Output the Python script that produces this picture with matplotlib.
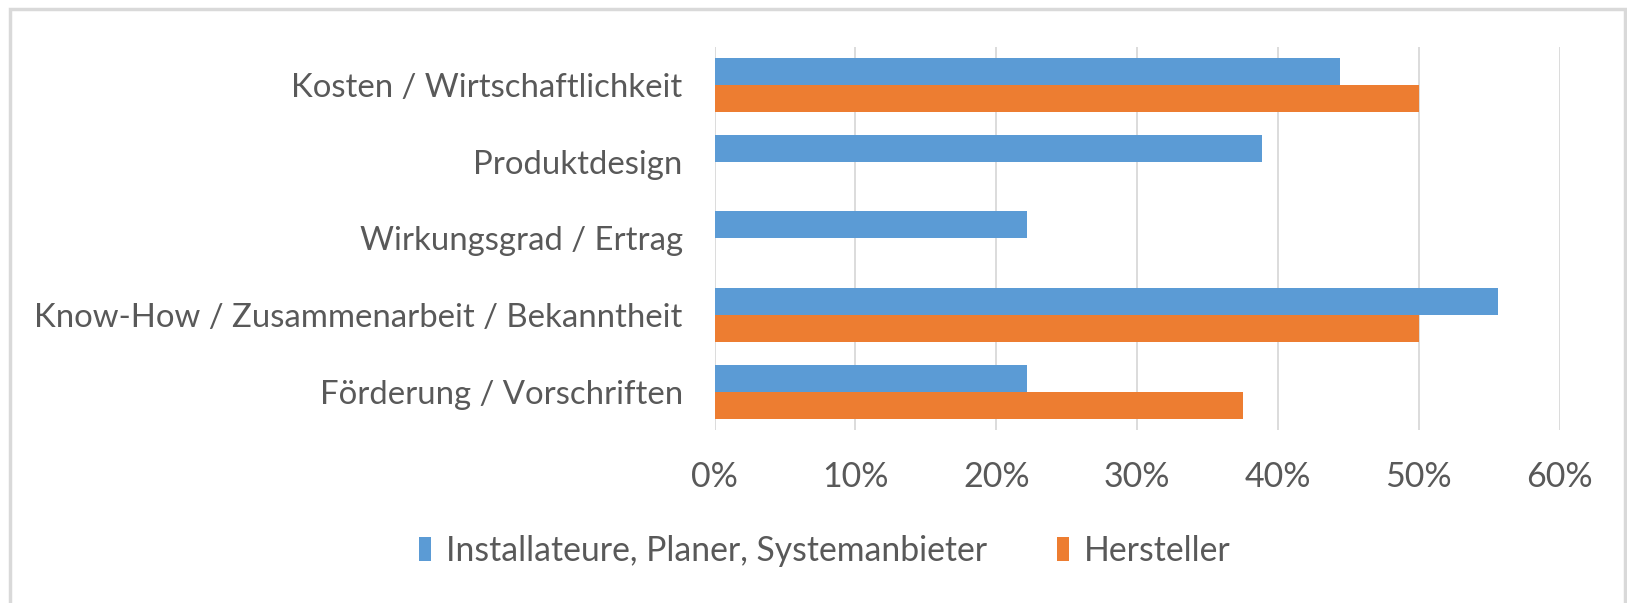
import numpy as np
import matplotlib.pyplot as plt
from matplotlib.patches import Rectangle

plt.rcParams['font.family'] = ['Lato', 'DejaVu Sans']

kategorien = ['Kosten / Wirtschaftlichkeit', 'Produktdesign', 'Wirkungsgrad / Ertrag',
              'Know-How / Zusammenarbeit / Bekanntheit', 'Förderung / Vorschriften']
installateure = [0.444, 0.389, 0.222, 0.556, 0.222]
hersteller = [0.50, 0.0, 0.0, 0.50, 0.375]
serien = ['Installateure, Planer, Systemanbieter', 'Hersteller']
xticks = [0, 0.1, 0.2, 0.3, 0.4, 0.5, 0.6]

blau = '#5B9BD5'
orange = '#ED7D31'
grau = '#595959'
gitter = '#D9D9D9'

W, H = 1627, 603
fig = plt.figure(figsize=(W / 100, H / 100), dpi=100)

# Rahmen ums Diagramm (oben, links, rechts)
fig.add_artist(Rectangle((9.5 / W, -0.01), (1625 - 9.5) / W, 1.01 - 8.5 / H,
                         transform=fig.transFigure, fill=False,
                         edgecolor=gitter, linewidth=2.5))

ax = fig.add_axes([714.6 / W, 1 - 430 / H, 845 / W, 383 / H])

y = np.arange(len(kategorien))
h = 0.355
ax.barh(y - h / 2, installateure, height=h, color=blau, label=serien[0], zorder=3)
ax.barh(y + h / 2, hersteller, height=h, color=orange, label=serien[1], zorder=3)

ax.set_ylim(len(kategorien) - 0.5, -0.5)
ax.set_xlim(0, 0.6)
ax.set_yticks(y)
ax.set_yticklabels(kategorien, fontsize=23.7)
ax.set_xticks(xticks)
ax.set_xticklabels(['%d%%' % round(v * 100) for v in xticks], fontsize=24.5)

ax.grid(axis='x', color=gitter, linewidth=1.3, zorder=0)
for s in ax.spines.values():
    s.set_visible(False)
ax.tick_params(axis='both', length=0, labelcolor=grau)
ax.tick_params(axis='y', pad=23)
ax.tick_params(axis='x', pad=22)

fig.legend(loc='center', bbox_to_anchor=(825 / W, 1 - 551 / H), ncol=2,
           frameon=False, fontsize=24.3, labelcolor=grau,
           handlelength=0.34, handleheight=0.72, handletextpad=0.45,
           columnspacing=2.07)

fig.savefig('out.png', dpi=100, facecolor='white')
